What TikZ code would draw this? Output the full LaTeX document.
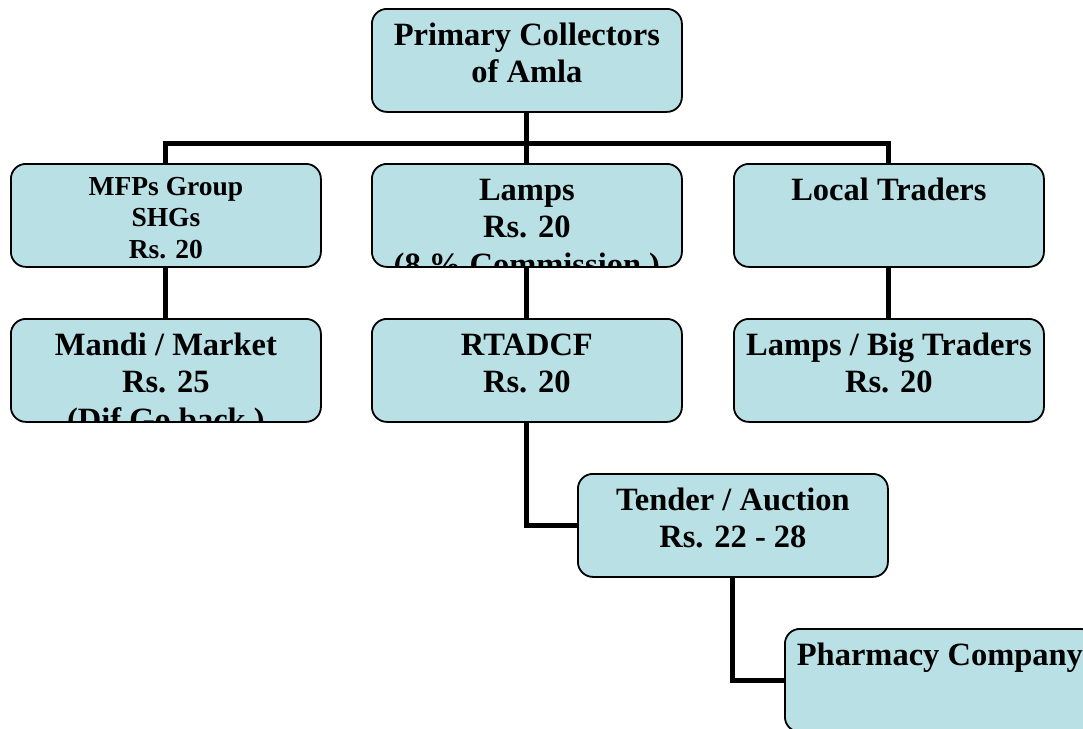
\documentclass[tikz,border=0pt]{standalone}
\usepackage{fontspec}
\setmainfont{Liberation Serif}
\usetikzlibrary{backgrounds}
\definecolor{boxfill}{RGB}{185,224,228}
\tikzset{
  orgbox/.style={draw=black, line width=1.8pt, fill=boxfill, rounded corners=15pt,
    minimum width=310pt, minimum height=103pt, inner sep=0pt, anchor=north west},
  bigtext/.style={font=\bfseries\fontsize{32.5}{37.5}\selectfont, align=center,
    anchor=base, inner sep=0pt},
  smalltext/.style={font=\bfseries\fontsize{27.5}{31.5}\selectfont, align=center,
    anchor=base, inner sep=0pt},
  link/.style={line width=5pt, draw=black},
}
% #4 is the drop from the box top to the baseline of the last line
\newcommand{\boxlabel}[5]{%
  \begin{scope}
    \clip[rounded corners=15pt] (#2.north west) rectangle (#2.south east);
    \node[#1] (#3) at ([yshift=-#4]#2.north) {#5};
  \end{scope}}
\begin{document}
\begin{tikzpicture}[x=1pt, y=-1pt]
  \useasboundingbox (0,0) rectangle (1083,728);
  \clip (0,0) rectangle (1083,728);

  % boxes of the chart
  \node[orgbox] (pc)     at (371,8)   {};
  \node[orgbox] (mfp)    at (10,163)  {};
  \node[orgbox] (lamps)  at (371,163) {};
  \node[orgbox] (local)  at (733,163) {};
  \node[orgbox] (mandi)  at (10,318)  {};
  \node[orgbox] (rtadcf) at (371,318) {};
  \node[orgbox] (big)    at (733,318) {};
  \node[orgbox] (tender) at (577,473) {};
  \node[orgbox] (pharma) at (784,628) {};
  \coordinate (bus) at (526,143);

  % connectors behind the boxes
  \begin{scope}[on background layer]
    \draw[link] (pc.south) -- (lamps.north);
    \draw[link] (mfp.north) -- (mfp.north |- bus) -- (local.north |- bus) -- (local.north);
    \draw[link] (mfp.south) -- (mandi.north);
    \draw[link] (lamps.south) -- (rtadcf.north);
    \draw[link] (local.south) -- (big.north);
    \draw[link] (rtadcf.south) |- (tender.west);
    \draw[link] (tender.south) |- (pharma.west);
  \end{scope}

  % texts, cut off at the box edges
  \boxlabel{bigtext}{pc}{pcT}{74.5pt}{Primary Collectors\\of Amla}
  \boxlabel{smalltext}{mfp}{mfpT}{95pt}{MFPs Group\\SHGs\\Rs. 20}
  \boxlabel{bigtext}{lamps}{lampsT}{112pt}{Lamps\\Rs. 20\\(8 \% Commission )}
  \boxlabel{bigtext}{local}{localT}{37pt}{Local Traders}
  \boxlabel{bigtext}{mandi}{mandiT}{112pt}{Mandi / Market\\Rs. 25\\(Dif Go back )}
  \boxlabel{bigtext}{rtadcf}{rtadcfT}{74.5pt}{RTADCF\\Rs. 20}
  \boxlabel{bigtext}{big}{bigT}{74.5pt}{Lamps / Big Traders\\Rs. 20}
  \boxlabel{bigtext}{tender}{tenderT}{74.5pt}{Tender / Auction\\Rs. 22 - 28}
  \boxlabel{bigtext}{pharma}{pharmaT}{37pt}{Pharmacy Company}
\end{tikzpicture}
\end{document}
